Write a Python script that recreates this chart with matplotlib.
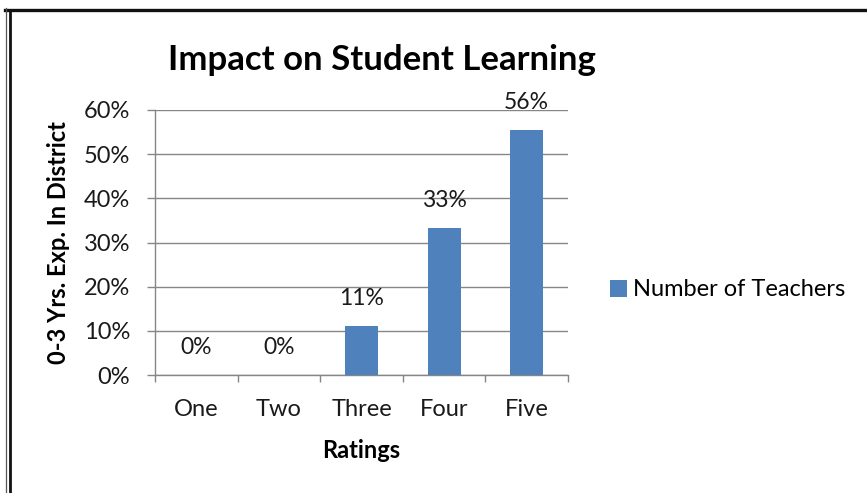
import matplotlib
matplotlib.use("Agg")
import matplotlib.pyplot as plt
from matplotlib.lines import Line2D
from matplotlib.ticker import MultipleLocator, FuncFormatter

plt.rcParams['font.family'] = ['Lato', 'DejaVu Sans']

categories = ["One", "Two", "Three", "Four", "Five"]
shares = [0.0, 0.0, 1 / 9, 3 / 9, 5 / 9]
series_name = "Number of Teachers"
title = "Impact on Student Learning"
y_label = "0-3 Yrs. Exp. In District"
x_label = "Ratings"

W, H = 867, 493
fig = plt.figure(figsize=(W / 100, H / 100), dpi=100)
ax = fig.add_axes([155 / W, 1 - 375 / H, 413 / W, 265 / H])

grid_c = "#868686"
bar_c = "#4F81BD"
txt_c = "#1a1a1a"

x = range(len(categories))
bars = ax.bar(x, shares, width=0.4, color=bar_c, label=series_name, zorder=3)

for xi, v in zip(x, shares):
    ax.annotate(f"{v:.0%}", (xi, v), xytext=(0, 19.5), textcoords="offset points",
                ha="center", va="center", fontsize=16.5, color=txt_c)

ax.set_xlim(-0.5, len(categories) - 0.5)
ax.set_ylim(0, 0.6)
ax.yaxis.set_major_locator(MultipleLocator(0.1))
ax.yaxis.set_major_formatter(FuncFormatter(lambda v, _: f"{v:.0%}"))
ax.set_xticks([i - 0.5 for i in range(len(categories) + 1)], minor=False)
ax.set_xticklabels([])
ax.set_xticks(list(x), minor=True)
ax.set_xticklabels(categories, minor=True)
ax.tick_params(axis="x", which="minor", length=0, pad=17, labelsize=17, labelcolor=txt_c)
ax.tick_params(axis="x", which="major", length=5, color=grid_c, width=1)
ax.tick_params(axis="y", length=6, color=grid_c, width=1, pad=12, labelsize=17, labelcolor=txt_c)

ax.grid(axis="y", color=grid_c, linewidth=1, zorder=0)
for side in ("top", "right"):
    ax.spines[side].set_visible(False)
for side in ("left", "bottom"):
    ax.spines[side].set_color(grid_c)
    ax.spines[side].set_linewidth(1)

ax.set_ylabel(y_label, fontsize=17, fontweight="bold", labelpad=10)
ax.set_xlabel(x_label, fontsize=17, fontweight="bold", labelpad=14)
fig.text(382 / W, 1 - 60 / H, title, ha="center", va="center", fontsize=25, fontweight="bold")

fig.legend(handles=[bars], labels=[series_name], loc="center left",
           bbox_to_anchor=(589 / W, 1 - 290 / H), frameon=False, fontsize=17,
           handlelength=0.7, handleheight=0.7, handletextpad=0.25)

# outer frame: heavy top rule and a double rule down the left side
fig.add_artist(Line2D([5 / W, 1], [1 - 10 / H, 1 - 10 / H], color="#111111", linewidth=2.4))
fig.add_artist(Line2D([5.5 / W, 5.5 / W], [0, 1 - 8 / H], color="#555555", linewidth=0.9))
fig.add_artist(Line2D([10 / W, 10 / W], [0, 1 - 10 / H], color="#111111", linewidth=2.0))

fig.savefig("out.png", dpi=100)
